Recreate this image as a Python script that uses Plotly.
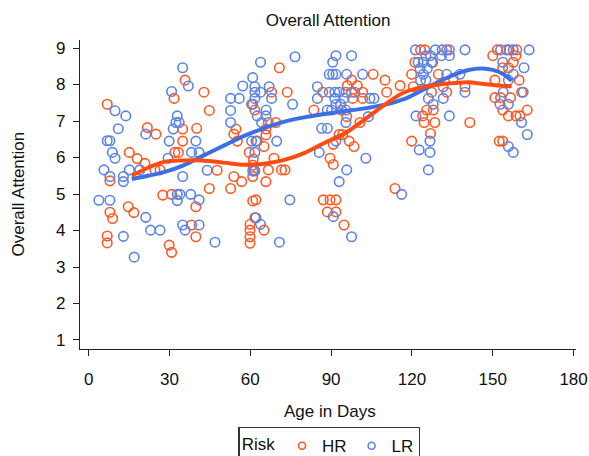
import plotly.graph_objects as go

# ---- data ----
hr_days = [6.9, 21.8, 25.0, 15.1, 18.0, 20.9, 7.9, 24.6, 26.5, 27.5, 14.7, 16.8, 7.9, 8.9, 6.9, 6.9,
           35.8, 42.8, 31.7, 44.8, 34.9, 40.1, 34.9, 32.0, 33.3, 47.7, 53.9, 56.8, 44.8, 52.7, 30.8, 39.8,
           38.2, 39.8, 29.9, 30.8, 54.7, 53.9, 55.2,
           70.8, 67.9, 73.7, 60.9, 61.7, 83.6, 86.9, 66.7, 69.5, 65.8, 65.8, 62.6, 65.1, 59.6, 61.1, 68.8,
           60.9, 61.4, 66.7, 71.6, 72.9, 60.9, 65.8, 60.9, 62.1, 61.7, 65.1, 59.9, 59.9, 59.9, 59.9, 87.1,
           97.6, 99.7, 105.6, 110.0, 115.6, 96.0, 97.6, 101.7, 101.7, 98.0, 110.6, 93.9, 95.8, 100.7, 94.3,
           93.0, 96.7, 90.8, 98.5, 89.6, 90.8, 89.6, 91.8, 88.6, 91.8, 94.8, 113.7,
           123.2, 124.8, 132.9, 121.1, 127.7, 119.9, 129.8, 120.5, 135.3, 139.7, 132.9, 127.3, 125.5, 127.9,
           124.0, 124.5, 128.5, 141.5, 126.9, 119.9,
           151.7, 155.2, 158.9, 150.0, 158.6, 157.6, 153.7, 155.8, 150.8, 159.8, 150.8, 152.9, 156.6, 160.7,
           153.7, 155.8, 158.6, 160.1, 162.8, 152.4, 153.7]
hr_vals = [7.46, 6.82, 6.64, 6.14, 5.97, 5.84, 5.36, 5.66, 5.66, 4.97, 4.65, 4.49, 4.50, 4.33, 3.85, 3.66,
           8.12, 7.79, 7.62, 7.29, 6.78, 6.80, 6.45, 6.14, 6.14, 5.65, 5.48, 5.34, 5.15, 5.15, 4.99, 4.65,
           4.15, 3.83, 3.60, 3.40, 6.78, 6.64, 6.45,
           8.46, 7.79, 7.79, 7.46, 7.30, 7.30, 7.79, 6.96, 6.96, 6.78, 6.62, 6.45, 6.30, 6.14, 5.96, 5.98,
           5.79, 5.66, 5.66, 5.66, 5.66, 5.48, 5.34, 4.81, 4.84, 4.35, 4.01, 4.17, 4.01, 3.83, 3.65, 4.84,
           8.12, 7.97, 8.28, 8.12, 7.97, 7.97, 7.79, 7.79, 7.62, 7.62, 7.79, 7.30, 7.12, 6.96, 6.63,
           6.63, 6.45, 6.36, 6.30, 5.98, 5.81, 4.84, 4.84, 4.51, 4.51, 4.15, 5.15,
           8.95, 8.95, 8.95, 8.61, 8.61, 8.28, 8.28, 7.94, 8.17, 7.94, 7.79, 7.79, 7.30, 7.30,
           7.14, 6.96, 6.96, 6.96, 6.66, 6.45,
           8.95, 8.95, 8.95, 8.79, 8.79, 8.61, 8.46, 8.46, 8.12, 8.12, 7.64, 7.64, 7.64, 7.79,
           7.30, 7.14, 7.14, 7.14, 7.30, 6.45, 6.45]

lr_days = [9.8, 13.8, 11.0, 21.2, 6.9, 7.9, 8.8, 9.8, 5.7, 7.9, 12.9, 12.9, 15.1, 19.0, 3.8, 7.9, 21.2,
           23.0, 26.5, 12.9, 16.9,
           34.9, 37.0, 30.8, 52.7, 55.9, 57.2, 52.7, 52.7, 32.9, 32.4, 33.6, 31.4, 29.9, 39.8, 38.2, 41.0,
           29.5, 44.0, 34.9, 32.9, 33.9, 32.9, 37.9, 41.0, 34.9, 41.0, 35.8, 46.9,
           76.6, 63.8, 60.9, 61.7, 67.0, 61.7, 63.8, 61.7, 67.9, 60.5, 75.7, 65.9, 62.6, 64.2, 65.8, 84.9,
           84.9, 86.5, 85.6, 60.5, 62.1, 61.7, 69.8, 60.9, 61.7, 74.7, 62.1, 63.8, 70.8,
           91.8, 97.6, 90.6, 89.3, 90.6, 91.8, 95.8, 101.7, 89.3, 91.4, 93.0, 95.5, 98.8, 91.4, 94.8, 104.4,
           105.9, 91.8, 93.5, 88.6, 90.2, 95.5, 95.5, 103.8, 88.6, 91.8, 102.9, 95.8, 93.0, 116.2, 90.8, 97.6,
           121.3, 128.7, 131.2, 133.9, 139.7, 125.2, 126.9, 131.0, 133.9, 122.3, 124.2, 127.3, 123.0, 125.7,
           124.2, 132.9, 137.8, 123.2, 125.2, 131.6, 126.1, 131.6, 139.7, 127.9, 121.5, 133.9, 126.7, 122.7,
           126.7, 126.1,
           152.9, 156.1, 157.6, 163.5, 153.7, 161.6, 157.6, 155.8, 153.9, 161.3, 152.7, 155.8, 160.7, 162.8,
           155.8, 157.6]
lr_vals = [7.28, 7.14, 6.79, 6.64, 6.46, 6.46, 6.14, 5.98, 5.66, 5.48, 5.48, 5.34, 5.66, 5.66, 4.83, 4.83, 4.36,
           4.01, 4.01, 3.84, 3.27,
           8.46, 7.96, 7.81, 7.62, 7.62, 7.96, 7.29, 6.96, 7.14, 6.96, 6.96, 6.78, 6.45, 6.45, 6.14, 6.14,
           5.98, 5.65, 5.48, 4.99, 4.99, 4.82, 4.99, 4.84, 4.15, 4.15, 4.01, 3.68,
           8.76, 8.61, 8.19, 7.94, 7.94, 7.79, 7.79, 7.62, 7.62, 7.46, 7.46, 7.30, 7.14, 6.96, 7.14, 7.94,
           7.62, 6.80, 6.14, 6.45, 6.45, 6.14, 6.45, 5.63, 5.63, 4.84, 4.35, 4.17, 3.68,
           8.79, 8.79, 8.61, 8.28, 8.28, 8.28, 8.28, 8.28, 7.79, 7.79, 7.79, 7.79, 7.79, 7.62, 7.62, 7.62,
           7.62, 7.46, 7.46, 7.30, 7.30, 7.30, 6.96, 7.12, 6.80, 6.45, 5.98, 5.66, 5.34, 4.99, 4.38, 3.83,
           8.95, 8.95, 8.95, 8.95, 8.95, 8.79, 8.79, 8.79, 8.79, 8.61, 8.61, 8.61, 8.44, 8.44,
           8.28, 8.28, 8.28, 8.12, 8.12, 7.94, 7.62, 7.62, 7.79, 7.46, 7.14, 7.14, 6.45, 6.21,
           6.14, 5.66,
           8.95, 8.95, 8.95, 8.95, 8.61, 8.46, 8.28, 8.12, 7.79, 7.79, 7.46, 7.46, 6.96, 6.63,
           6.30, 6.14]

# smoothed fit curves
lr_fit_days = [16, 22, 28, 35, 42, 50, 58, 65, 72, 80, 88, 95, 102, 110, 117, 124, 130, 136, 141, 146, 150, 154, 157]
lr_fit_vals = [5.41, 5.50, 5.60, 5.78, 6.03, 6.32, 6.60, 6.80, 6.97, 7.10, 7.20, 7.27, 7.34, 7.45, 7.60, 7.85,
               8.08, 8.28, 8.40, 8.44, 8.40, 8.28, 8.10]
hr_fit_days = [16, 22, 28, 35, 42, 50, 58, 65, 72, 80, 88, 95, 102, 110, 117, 124, 130, 136, 141, 146, 151, 157]
hr_fit_vals = [5.50, 5.72, 5.88, 5.92, 5.92, 5.86, 5.80, 5.83, 5.92, 6.12, 6.42, 6.66, 7.02, 7.45, 7.78, 7.93,
               8.00, 8.04, 8.06, 8.02, 7.98, 7.95]

groups = ["HR", "LR"]
x_ticks = [0, 30, 60, 90, 120, 150, 180]
y_ticks = [1, 2, 3, 4, 5, 6, 7, 8, 9]

HR_COLOR = "#FF5A22"
LR_COLOR = "#5B84E8"
HR_LINE = "#FF4A12"
LR_LINE = "#3B6FE3"
FONT = "Liberation Sans, Arial, sans-serif"

fig = go.Figure()
for name, xs, ys, col in [("HR", hr_days, hr_vals, HR_COLOR), ("LR", lr_days, lr_vals, LR_COLOR)]:
    fig.add_trace(go.Scatter(x=xs, y=ys, mode="markers", name=name, showlegend=False,
                             legendgroup=name,
                             marker=dict(symbol="circle-open", size=9.5, color=col,
                                         line=dict(width=1.6, color=col))))
fig.add_trace(go.Scatter(x=lr_fit_days, y=lr_fit_vals, mode="lines", showlegend=False,
                         line=dict(color=LR_LINE, width=4, shape="spline", smoothing=1.0),
                         hoverinfo="skip"))
fig.add_trace(go.Scatter(x=hr_fit_days, y=hr_fit_vals, mode="lines", showlegend=False,
                         line=dict(color=HR_LINE, width=4, shape="spline", smoothing=1.0),
                         hoverinfo="skip"))
# legend entries with small symbols, like the reference
for name, col in zip(groups, [HR_COLOR, LR_COLOR]):
    fig.add_trace(go.Scatter(x=[None], y=[None], mode="markers", name=name, legendgroup=name,
                             marker=dict(symbol="circle-open", size=7, color=col,
                                         line=dict(width=1.6, color=col))))

axis_common = dict(showgrid=False, zeroline=False, showline=True, linecolor="#222",
                   linewidth=1.3, ticks="outside", ticklen=6, tickwidth=1.3, tickcolor="#222",
                   tickfont=dict(family=FONT, size=17, color="#111"), mirror=False)

fig.update_layout(
    width=589, height=456,
    paper_bgcolor="white", plot_bgcolor="white",
    margin=dict(l=80, r=13, t=40, b=107, autoexpand=False),
    font=dict(family=FONT, size=17, color="#111"),
    title=dict(text="Overall Attention", x=0.557, xanchor="center", y=0.955, yanchor="middle",
               font=dict(family=FONT, size=17, color="#111")),
    xaxis=dict(range=[-3.2, 180.9], tickvals=x_ticks, ticklabelstandoff=8, **axis_common),
    yaxis=dict(range=[0.753, 9.22], tickvals=y_ticks, ticklabelstandoff=4, **axis_common),
    showlegend=True,
    legend=dict(orientation="h", x=0.503, xanchor="center", y=-0.252, yanchor="top",
                title=dict(text="Risk", side="left", font=dict(family=FONT, size=17)),
                bordercolor="#333", borderwidth=1.3, itemwidth=30,
                font=dict(family=FONT, size=17), bgcolor="white", tracegroupgap=0),
    annotations=[
        dict(text="Age in Days", xref="paper", yref="paper", x=0.504, y=-0.203, yanchor="middle",
             showarrow=False, font=dict(family=FONT, size=17, color="#111")),
        dict(text="Overall Attention", xref="paper", yref="paper", x=-0.125, xanchor="center",
             y=0.5, yanchor="middle", textangle=-90, showarrow=False,
             font=dict(family=FONT, size=17, color="#111")),
    ],
)

fig.write_html("out.html", config={"displayModeBar": False},
               post_script="document.body.style.margin='0';document.body.style.padding='0';")
